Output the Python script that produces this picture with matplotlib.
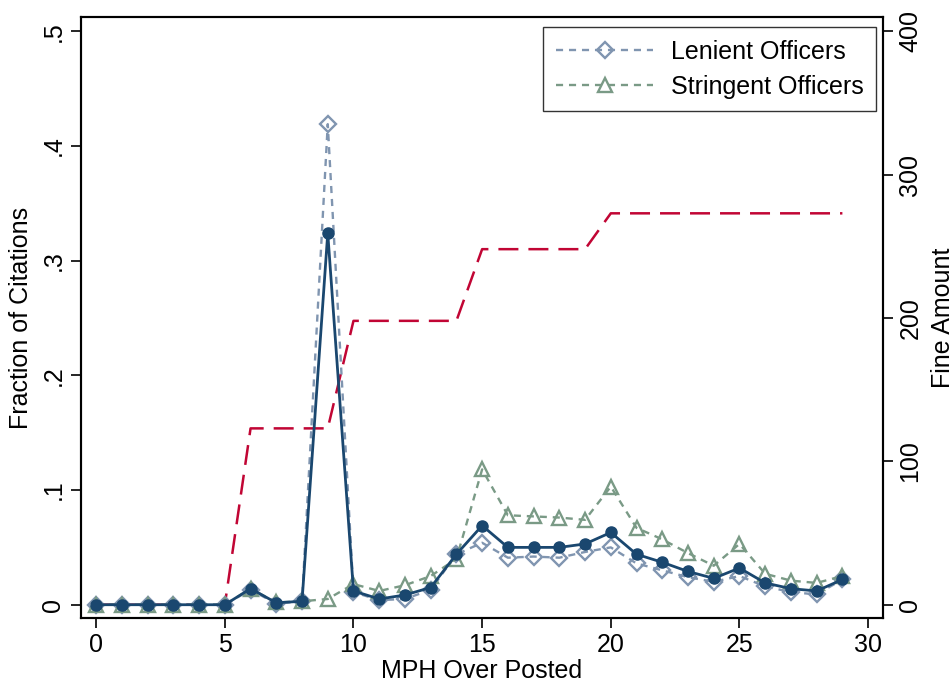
import numpy as np
import matplotlib
matplotlib.use('Agg')
import matplotlib.pyplot as plt

plt.rcParams['font.family'] = ['Liberation Sans', 'DejaVu Sans']

# Data
mph = np.arange(30)
lenient = [0, 0, 0, 0, 0, 0, 0.013, 0.001, 0.003, 0.419, 0.011, 0.004, 0.005, 0.013, 0.044,
           0.054, 0.041, 0.042, 0.041, 0.046, 0.050, 0.036, 0.030, 0.024, 0.020, 0.025,
           0.016, 0.011, 0.009, 0.022]
stringent = [0, 0, 0, 0, 0, 0, 0.014, 0.002, 0.003, 0.005, 0.018, 0.012, 0.017, 0.025, 0.040,
             0.118, 0.078, 0.077, 0.076, 0.074, 0.103, 0.067, 0.057, 0.045, 0.034, 0.053,
             0.027, 0.021, 0.019, 0.025]
overall = [0, 0, 0, 0, 0, 0, 0.014, 0.0017, 0.003, 0.324, 0.012, 0.005, 0.0085, 0.015, 0.044,
           0.069, 0.050, 0.050, 0.050, 0.053, 0.063, 0.044, 0.037, 0.029, 0.023, 0.032,
           0.019, 0.014, 0.012, 0.022]
fine = [0, 0, 0, 0, 0, 0, 123, 123, 123, 123, 198, 198, 198, 198, 198,
        248, 248, 248, 248, 248, 273, 273, 273, 273, 273, 273, 273, 273, 273, 273]

navy = '#1a476f'
c_len = '#8095b0'
c_str = '#7a9a86'
c_fine = '#c10534'

fig = plt.figure(figsize=(9.53, 6.89), dpi=100)
ax = fig.add_axes([0.0847, 0.103, 0.8419, 0.8723])
ax2 = ax.twinx()

# fine amount on right axis
ax2.plot(mph, fine, color=c_fine, lw=1.8, dashes=(8, 4), zorder=1)

ax.plot(mph, lenient, color=c_len, lw=1.7, dashes=(3, 2.5), marker='D', ms=8,
        mfc='none', mec=c_len, mew=1.7, label='Lenient Officers', zorder=3)
ax.plot(mph, stringent, color=c_str, lw=1.7, dashes=(3, 2.5), marker='^', ms=9.5,
        mfc='none', mec=c_str, mew=1.7, label='Stringent Officers', zorder=3)
ax.plot(mph, overall, color=navy, lw=2.0, marker='o', ms=8, mfc=navy, mec=navy,
        zorder=4)

ax.set_zorder(ax2.get_zorder() + 1)
ax.patch.set_visible(False)

ax.set_xlim(-0.6, 30.58)
ax.set_ylim(-0.0116, 0.5124)
ax2.set_ylim(-0.0116 * 800, 0.5124 * 800)

ax.set_xticks(range(0, 31, 5))
ax.set_yticks([0, 0.1, 0.2, 0.3, 0.4, 0.5])
ax.set_yticklabels(['0', '.1', '.2', '.3', '.4', '.5'], rotation=90, va='center')
ax2.set_yticks([0, 100, 200, 300, 400])
ax2.set_yticklabels(['0', '100', '200', '300', '400'], rotation=90, va='center')

for a in (ax, ax2):
    a.tick_params(direction='out', length=7, width=1.2, labelsize=18, pad=4)
    for s in a.spines.values():
        s.set_linewidth(1.5)

ax.set_xlabel('MPH Over Posted', fontsize=18, labelpad=1)
ax.set_ylabel('Fraction of Citations', fontsize=18, labelpad=6)
ax2.set_ylabel('Fine Amount', fontsize=18, labelpad=6)

leg = ax.legend(loc='upper right', fontsize=18, frameon=True, fancybox=False,
                borderpad=0.5, handlelength=3.9, handletextpad=0.7,
                labelspacing=0.45, borderaxespad=0.0,
                bbox_to_anchor=(0.9915, 0.983))
leg.get_frame().set_edgecolor('black')
leg.get_frame().set_linewidth(1.0)

fig.savefig('out.png', dpi=100)
